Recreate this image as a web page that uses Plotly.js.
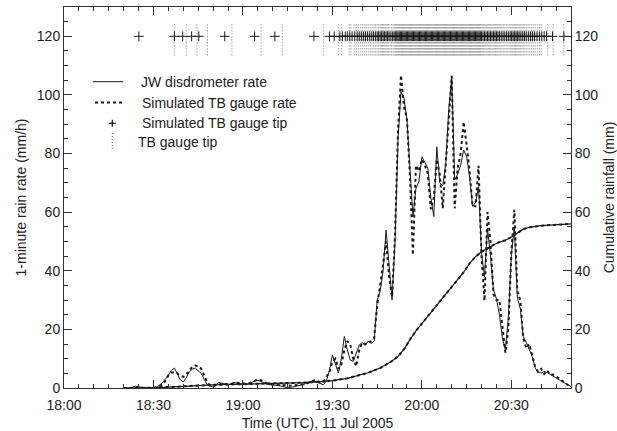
<!DOCTYPE html>
<html><head><meta charset="utf-8">
<script src="https://cdn.plot.ly/plotly-3.0.1.min.js"></script>
<style>html,body{margin:0;padding:0;background:#fff}#chart{width:617px;height:431px}</style>
</head><body><div id="chart"></div>
<script>
// Time axis: minutes after 18:00 UTC, 11 Jul 2005
const rateStartMinute = 20; // 1-minute data from 18:20
const jwRate = [
 0,0,0,0.3,0.6,0.4,0.2,0,0,0,
 0.2,0.1,0.8,1.8,3,4.5,6,6.8,4.5,2.8,
 2,3.5,5.5,6.4,6.8,6,5,3,1.1,0.6,
 0.3,1.2,1.9,1.6,1.4,1.1,1.5,1.9,1.6,1.4,
 1.3,1.1,1.5,2,2.4,2.6,2.3,1.8,1.3,1.1,
 1,0.9,0.8,0.5,0.2,0.1,0.2,0.4,0.7,0.8,
 1.1,1.5,1.9,2.3,2.3,1.9,1.4,1.1,2.5,6,
 11.3,8,5.1,10,17.6,13,9.5,9.1,12,14.7,
 15.5,14.5,16,15.2,16,30,33,40,53.9,42,
 30,50,85,101,99,91.4,75,58.5,68,70.4,
 78.9,77,75,65,58.5,82.3,70,69,76.6,95,
 106,71,73,76,81.2,79,72,62,63.3,68.7,
 46,38,54.5,45,33.5,30.5,25,17,13,24,
 45.4,55,31,27,17.6,15.5,13,10.8,6.8,5.5,
 5.1,5.6,5.3,4.6,4.2,3.5,2.8,2.2,1.6,0.9,0.5
];
const simRate = [
 0,0,0,0,0,0,0,0,0,0,
 0,0.3,0.6,1.1,2.5,4.3,5.2,5.4,5,4.2,
 3.8,4.5,6,7.2,7.7,7.5,6.6,4.5,2,0.8,
 0.6,1,1.3,1.5,1.4,1.3,1.4,1.6,1.8,1.7,
 1.5,1.4,1.6,2,2.6,2.9,2.7,2.1,1.6,1.3,
 1.2,1.1,1,0.9,0.8,0.8,0.8,0.9,1,1.1,
 1.2,1.4,1.8,2.3,2.6,2.4,1.9,2,3.7,5.5,
 9,10,6.5,8,13,16,14.7,10,7.4,13,
 15.5,15,15.5,16,17,28,35,42,50,38,
 31,52,88,106.7,96,92,72,45.4,76,74,
 78,76,73,61,65,78,73,61.3,75.8,92,
 106.5,61.3,75,80,90.8,83,74,62,62,75.8,
 45,29.8,60,50,32,30,30,21,12,20,
 46,60.8,33,30,17,13.5,15,11,7,5.5,
 6.5,4.8,6,4.5,4.6,4,3.2,2.3,1.7,1,0.4
];
const cumMinutes = [20,25,30,35,40,45,50,55,60,65,70,75,80,85,90,95,100,
 102,104,106,108,110,112,114,116,118,120,122,124,126,128,130,132,134,136,138,140,
 142,144,146,148,150,152,154,156,158,160,163,166,170];
const cumRain = [0,0,0.1,0.3,0.6,0.9,1.1,1.2,1.3,1.5,1.6,1.7,1.8,2.1,2.5,3.3,4.5,
 5.2,6,6.8,8,9.2,10.8,13.2,16.5,19.5,22,24.5,27,29.5,32,34.5,37,39.5,42.5,44.8,46.5,
 47.8,48.8,49.8,50.4,51.5,53,54.2,54.8,55.2,55.4,55.6,55.8,56];
// Simulated tipping-bucket tip times (minutes after 18:00)
const simTipMinutes = [25.1,37.0,39.8,42.8,45.2,53.9,63.9,70.7,83.8,89.0,90.6,
 92.5,93.4,94.3,95.0,95.8,96.6,97.5,98.3,99.0,99.7,100.4,101.1,101.8,102.5,103.2,103.8,104.4,
 105.0,105.5,106.0,106.5,107.0,107.5,108.0,108.5,109.0,109.6,110.2,110.7,111.2,111.6,112.0,
 112.4,112.8,113.2,113.6,114.0,114.4,114.8,115.2,115.6,116.0,116.4,116.8,117.2,117.6,118.0,
 118.4,118.8,119.2,119.6,120.0,120.4,120.8,121.2,121.6,122.0,122.4,122.8,123.2,123.6,124.0,
 124.4,124.8,125.2,125.6,126.0,126.4,126.8,127.2,127.6,128.0,128.4,128.8,129.2,129.6,130.0,
 130.4,130.8,131.2,131.6,132.0,132.4,132.8,133.2,133.6,134.0,134.4,134.8,135.2,135.6,136.0,
 136.4,136.8,137.2,137.6,138.0,138.4,138.8,139.2,139.6,140.0,140.5,141.0,141.5,142.0,142.5,
 143.0,143.5,144.0,144.5,145.0,145.5,146.0,146.6,147.2,147.8,148.4,149.0,149.6,150.1,150.6,
 151.1,151.6,152.1,152.6,153.2,153.8,154.4,155.0,155.7,156.4,157.1,157.8,158.6,159.4,160.2,
 161.0,161.8,163.8,167.6];
// Observed TB gauge tip times (minutes after 18:00)
const tbTipMinutes = [37.0,41.0,44.6,48.1,56.3,66.1,73.2,87.0,92.1,93.0,
 95.6,96.2,97.3,98.0,98.8,99.5,100.1,100.8,101.4,102.0,102.7,103.3,103.9,104.5,105.0,105.5,
 106.0,106.4,106.8,107.2,107.6,108.0,108.4,108.8,109.3,109.8,110.3,110.7,111.1,111.4,111.7,
 112.0,112.3,112.6,112.9,113.2,113.5,113.8,114.1,114.4,114.7,115.0,115.3,115.6,115.9,116.2,
 116.5,116.8,117.1,117.4,117.7,118.0,118.3,118.6,118.9,119.2,119.5,119.8,120.1,120.4,120.7,
 121.0,121.3,121.6,121.9,122.2,122.5,122.8,123.1,123.4,123.7,124.0,124.3,124.6,124.9,125.2,
 125.5,125.8,126.1,126.4,126.7,127.0,127.3,127.6,127.9,128.2,128.5,128.8,129.1,129.4,129.7,
 130.0,130.3,130.6,130.9,131.2,131.5,131.8,132.1,132.4,132.7,133.0,133.3,133.6,133.9,134.2,
 134.5,134.8,135.1,135.4,135.7,136.0,136.3,136.6,136.9,137.2,137.5,137.8,138.1,138.4,138.7,
 139.0,139.3,139.6,139.9,140.3,140.7,141.1,141.5,141.9,142.3,142.7,143.1,143.5,143.9,144.3,
 144.7,145.1,145.5,145.9,146.3,146.8,147.3,147.8,148.3,148.8,149.3,149.8,150.2,150.6,151.0,
 151.4,151.8,152.2,152.6,153.0,153.5,154.0,154.5,155.0,155.6,156.2,156.8,157.4,158.0,158.7,
 159.4,160.0,162.2,164.0,167.6];
const xTickLabels = ['18:00','18:30','19:00','19:30','20:00','20:30'];
const yTicks = [0,20,40,60,80,100,120];

// ---- build ----
const T0 = Date.UTC(2005,6,11,18,0,0);
const T = m => T0 + m*60000;
const rateX = jwRate.map((_,i)=>T(rateStartMinute+i));
const TIP_ROW = 120, TIP_LO = 113.5, TIP_HI = 124.5;
const tbX = [], tbY = [];
tbTipMinutes.forEach(m=>{ tbX.push(T(m),T(m),null); tbY.push(TIP_LO,TIP_HI,null); });

const INK = '#1a1a1a';
const traces = [
 {x:tbX, y:tbY, type:'scatter', mode:'lines', line:{color:'#666',width:0.9,dash:'1px,2px'}, showlegend:false, connectgaps:false},
 {x:rateX, y:jwRate, type:'scatter', mode:'lines', line:{color:INK,width:1}, showlegend:false},
 {x:rateX, y:simRate, type:'scatter', mode:'lines', line:{color:INK,width:2,dash:'dot'}, showlegend:false},
 {x:cumMinutes.map(T), y:cumRain, type:'scatter', mode:'lines', yaxis:'y2', line:{color:INK,width:1.2}, showlegend:false},
 {x:cumMinutes.map(T), y:cumRain, type:'scatter', mode:'lines', yaxis:'y2', line:{color:INK,width:2,dash:'dot'}, showlegend:false},
 {x:simTipMinutes.map(T), y:simTipMinutes.map(()=>TIP_ROW), type:'scatter', mode:'markers',
  marker:{symbol:'cross-thin-open', size:7, color:INK, line:{color:INK,width:1}}, showlegend:false}
];

const L=64, R=46, TOP=7, B=43, W=617, H=431;
const pw = W-L-R, ph = H-TOP-B;
const px = x => (x-L)/pw, py = y => 1-(y-TOP)/ph;
const font = {family:'Liberation Sans, Arial, Helvetica, sans-serif', size:14, color:'#222'};
const axCol = '#333';

const shapes = [
 {type:'line', xref:'paper', yref:'paper', x0:px(93), x1:px(123), y0:py(81.7), y1:py(81.7), line:{color:INK,width:1}},
 {type:'line', xref:'paper', yref:'paper', x0:px(95), x1:px(123), y0:py(102.5), y1:py(102.5), line:{color:INK,width:2,dash:'dot'}},
 {type:'line', xref:'paper', yref:'paper', x0:px(108.8), x1:px(115.8), y0:py(123.3), y1:py(123.3), line:{color:INK,width:1.3}},
 {type:'line', xref:'paper', yref:'paper', x0:px(112.3), x1:px(112.3), y0:py(119.8), y1:py(126.8), line:{color:INK,width:1.3}},
 {type:'line', xref:'paper', yref:'paper', x0:px(112.3), x1:px(112.3), y0:py(133), y1:py(151), line:{color:'#555',width:1,dash:'1px,2px'}}
];
const legendText = ['JW disdrometer rate','Simulated TB gauge rate','Simulated TB gauge tip','TB gauge tip'];
const legPos = [[139,81.7],[140,102.5],[140,123.3],[136,142]];
const annotations = legendText.map((t,i)=>({text:t, xref:'paper', yref:'paper', x:px(legPos[i][0]), y:py(legPos[i][1]),
  xanchor:'left', yanchor:'middle', showarrow:false, font:font}));

const yAxisCommon = {range:[0,130], tickmode:'array', tickvals:yTicks, ticktext:yTicks.map(String),
  ticks:'inside', ticklen:8, tickcolor:axCol, showline:true, linecolor:axCol, linewidth:1,
  showgrid:false, zeroline:false, minor:{dtick:5, ticks:'inside', ticklen:4, tickcolor:axCol, showgrid:false},
  tickfont:font};

const layout = {
 width:W, height:H, margin:{l:L,r:R,t:TOP,b:B}, paper_bgcolor:'#fff', plot_bgcolor:'#fff',
 font:font, showlegend:false,
 xaxis:{type:'date', range:[T(0),T(170)], tickmode:'array',
   tickvals:xTickLabels.map((_,i)=>T(30*i)), ticktext:xTickLabels,
   ticks:'inside', ticklen:8, tickcolor:axCol, showline:true, linecolor:axCol, linewidth:1, mirror:'ticks',
   showgrid:false, zeroline:false, minor:{dtick:300000, tick0:T(0), ticks:'inside', ticklen:4, tickcolor:axCol, showgrid:false},
   ticklabelstandoff:4,
   tickfont:font, title:{text:'Time (UTC), 11 Jul 2005', font:font, standoff:6}},
 yaxis:Object.assign({}, yAxisCommon, {title:{text:'1-minute rain rate (mm/h)', font:font, standoff:6}}),
 yaxis2:Object.assign({}, yAxisCommon, {overlaying:'y', side:'right', title:{text:'Cumulative rainfall (mm)', font:font, standoff:6}}),
 shapes:shapes, annotations:annotations
};
Plotly.newPlot('chart', traces, layout, {staticPlot:true, displayModeBar:false});
</script></body></html>
